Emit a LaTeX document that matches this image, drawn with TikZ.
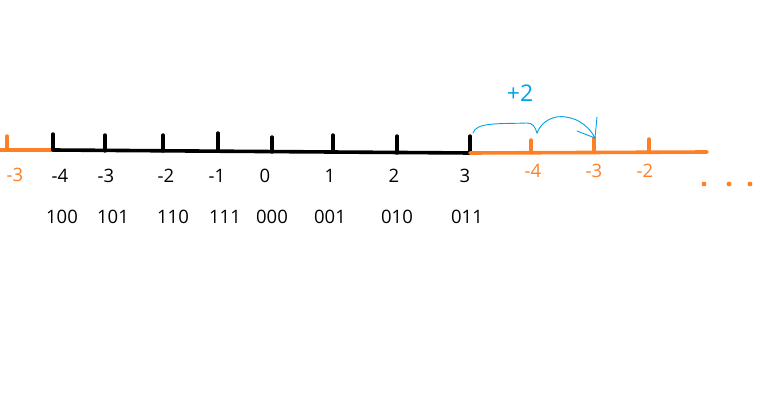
\documentclass[tikz,border=0pt]{standalone}
\usepackage{fontspec}
\setmainfont{Open Sans}
\definecolor{penorange}{RGB}{255,127,39}
\definecolor{penblue}{RGB}{0,162,232}
\tikzset{
  axisline/.style={line width=3.6pt, line cap=round},
  tickline/.style={line width=3.4pt, line cap=round},
  numlbl/.style={font=\fontsize{18.5}{20}\selectfont, inner sep=0pt},
}
\begin{document}
\begin{tikzpicture}[x=1pt, y=-1pt]
  \useasboundingbox (0,0) rectangle (766,417);

  % Left wrap-around part
  \coordinate (lstart) at (0,150);
  \coordinate (lend) at (53,150);
  \draw[axisline, penorange] (lstart) -- (lend);
  \draw[tickline, penorange] (7,150) -- (7,136);
  \node[numlbl, penorange] (lm3) at (15,175) {-3};

  % Main number line
  \coordinate (mend) at (470,153);
  \draw[axisline] (lend) -- (mend);
  \foreach \x/\top/\bot in {53/134/150, 105/135/151, 163/135/151, 218/133/151,
                            272/137/152, 333/135/152, 397/136/153, 470/136/153}
    \draw[tickline] (\x,\bot) -- (\x,\top);

  % Decimal values
  \foreach \x/\v/\n in {60/-4/a, 106/-3/b, 166/-2/c, 217/-1/d,
                        265/0/e, 330/1/f, 394/2/g, 465/3/h}
    \node[numlbl] (dec\n) at (\x,176) {\v};

  % Three-bit patterns
  \foreach \x/\v/\n in {62/100/a, 113/101/b, 173/110/c, 225/111/d,
                        272/000/e, 330/001/f, 397/010/g, 467/011/h}
    \node[numlbl] (bin\n) at (\x,217) {\v};

  % Right wrap-around part
  \coordinate (rend) at (707,152);
  \draw[axisline, penorange] (mend) -- (rend);
  \foreach \x/\top in {531/140, 594/138, 649/139}
    \draw[tickline, penorange] (\x,152) -- (\x,\top);
  \foreach \x/\v/\n in {533/-4/a, 594/-3/b, 645/-2/c}
    \node[numlbl, penorange] (wrap\n) at (\x,171) {\v};

  % Dots
  \foreach \x in {704,729,750}
    \fill[penorange] (\x,184) circle (2.4pt);

  % The +2 step
  \draw[penblue, line width=0.9pt, line cap=round]
    (473,133) .. controls (476,122) and (500,124) .. (527,123)
    .. controls (533,123) and (535,127) .. (537,133)
    .. controls (542,120) and (555,115) .. (566,117)
    .. controls (580,119) and (590,128) .. (595,138);
  \draw[penblue, line width=0.9pt, line cap=round] (577,131) -- (595,138);
  \draw[penblue, line width=0.9pt, line cap=round] (597,117) -- (595,138);
  \node[numlbl, penblue, font=\fontsize{23}{25}\selectfont\addfontfeatures{FakeBold=-0.3}] (plustwo) at (520,93) {+2};
\end{tikzpicture}
\end{document}
